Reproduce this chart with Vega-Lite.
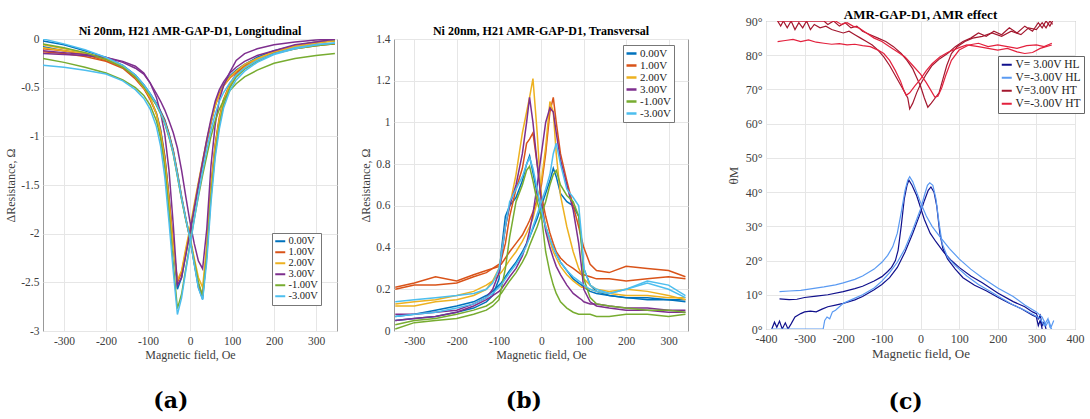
{
"$schema": "https://vega.github.io/schema/vega-lite/v6.json",
"padding": {"left": 4, "top": 8, "right": 0, "bottom": 0},
"config": {
 "view": {"stroke": "#999999"},
 "title": {"font": "Liberation Serif", "fontWeight": "bold", "color": "#000000"},
 "axis": {"labelFont": "Liberation Serif", "labelColor": "#404040", "titleFont": "Liberation Serif", "titleFontWeight": "normal", "titleColor": "#404040", "gridColor": "#e6e6e6", "domain": false, "ticks": false, "labelPadding": 4, "labelFlush": false, "labelOverlap": false},
 "legend": {"labelFont": "Liberation Serif", "labelColor": "#222222", "symbolType": "M-2,0H2", "symbolSize": 25, "fillColor": "#ffffff", "strokeColor": "#777777", "padding": 3, "rowPadding": 0, "labelOffset": 3}
},
"datasets": {
"a": [
{"x":-350,"y":-0.08,"s":"0.00V","k":"d"},{"x":-300,"y":-0.12,"s":"0.00V","k":"d"},{"x":-250,"y":-0.15,"s":"0.00V","k":"d"},{"x":-200,"y":-0.22,"s":"0.00V","k":"d"},{"x":-160,"y":-0.28,"s":"0.00V","k":"d"},{"x":-130,"y":-0.40,"s":"0.00V","k":"d"},{"x":-110,"y":-0.50,"s":"0.00V","k":"d"},{"x":-95,"y":-0.61,"s":"0.00V","k":"d"},{"x":-80,"y":-0.76,"s":"0.00V","k":"d"},{"x":-70,"y":-0.93,"s":"0.00V","k":"d"},{"x":-60,"y":-1.20,"s":"0.00V","k":"d"},{"x":-50,"y":-1.62,"s":"0.00V","k":"d"},{"x":-40,"y":-2.10,"s":"0.00V","k":"d"},{"x":-30,"y":-2.57,"s":"0.00V","k":"d"},{"x":-20,"y":-2.45,"s":"0.00V","k":"d"},{"x":-10,"y":-2.21,"s":"0.00V","k":"d"},{"x":0,"y":-1.99,"s":"0.00V","k":"d"},{"x":10,"y":-1.75,"s":"0.00V","k":"d"},{"x":20,"y":-1.51,"s":"0.00V","k":"d"},{"x":30,"y":-1.28,"s":"0.00V","k":"d"},{"x":40,"y":-1.06,"s":"0.00V","k":"d"},{"x":50,"y":-0.86,"s":"0.00V","k":"d"},{"x":60,"y":-0.68,"s":"0.00V","k":"d"},{"x":70,"y":-0.56,"s":"0.00V","k":"d"},{"x":80,"y":-0.47,"s":"0.00V","k":"d"},{"x":95,"y":-0.38,"s":"0.00V","k":"d"},{"x":110,"y":-0.32,"s":"0.00V","k":"d"},{"x":130,"y":-0.26,"s":"0.00V","k":"d"},{"x":160,"y":-0.19,"s":"0.00V","k":"d"},{"x":200,"y":-0.13,"s":"0.00V","k":"d"},{"x":250,"y":-0.07,"s":"0.00V","k":"d"},{"x":300,"y":-0.04,"s":"0.00V","k":"d"},{"x":345,"y":-0.01,"s":"0.00V","k":"d"},
{"x":-350,"y":-0.02,"s":"0.00V","k":"u"},{"x":-300,"y":-0.06,"s":"0.00V","k":"u"},{"x":-250,"y":-0.12,"s":"0.00V","k":"u"},{"x":-200,"y":-0.19,"s":"0.00V","k":"u"},{"x":-160,"y":-0.27,"s":"0.00V","k":"u"},{"x":-130,"y":-0.37,"s":"0.00V","k":"u"},{"x":-110,"y":-0.47,"s":"0.00V","k":"u"},{"x":-95,"y":-0.56,"s":"0.00V","k":"u"},{"x":-80,"y":-0.66,"s":"0.00V","k":"u"},{"x":-70,"y":-0.74,"s":"0.00V","k":"u"},{"x":-60,"y":-0.83,"s":"0.00V","k":"u"},{"x":-50,"y":-0.97,"s":"0.00V","k":"u"},{"x":-40,"y":-1.14,"s":"0.00V","k":"u"},{"x":-30,"y":-1.37,"s":"0.00V","k":"u"},{"x":-20,"y":-1.62,"s":"0.00V","k":"u"},{"x":-10,"y":-1.84,"s":"0.00V","k":"u"},{"x":0,"y":-2.04,"s":"0.00V","k":"u"},{"x":10,"y":-2.30,"s":"0.00V","k":"u"},{"x":20,"y":-2.55,"s":"0.00V","k":"u"},{"x":30,"y":-2.67,"s":"0.00V","k":"u"},{"x":40,"y":-2.20,"s":"0.00V","k":"u"},{"x":50,"y":-1.55,"s":"0.00V","k":"u"},{"x":60,"y":-1.10,"s":"0.00V","k":"u"},{"x":70,"y":-0.82,"s":"0.00V","k":"u"},{"x":80,"y":-0.63,"s":"0.00V","k":"u"},{"x":95,"y":-0.47,"s":"0.00V","k":"u"},{"x":110,"y":-0.36,"s":"0.00V","k":"u"},{"x":130,"y":-0.28,"s":"0.00V","k":"u"},{"x":160,"y":-0.19,"s":"0.00V","k":"u"},{"x":200,"y":-0.12,"s":"0.00V","k":"u"},{"x":250,"y":-0.07,"s":"0.00V","k":"u"},{"x":300,"y":-0.03,"s":"0.00V","k":"u"},{"x":345,"y":-0.02,"s":"0.00V","k":"u"},
{"x":-350,"y":-0.13,"s":"1.00V","k":"d"},{"x":-300,"y":-0.15,"s":"1.00V","k":"d"},{"x":-250,"y":-0.18,"s":"1.00V","k":"d"},{"x":-200,"y":-0.23,"s":"1.00V","k":"d"},{"x":-160,"y":-0.30,"s":"1.00V","k":"d"},{"x":-130,"y":-0.41,"s":"1.00V","k":"d"},{"x":-110,"y":-0.51,"s":"1.00V","k":"d"},{"x":-95,"y":-0.62,"s":"1.00V","k":"d"},{"x":-80,"y":-0.77,"s":"1.00V","k":"d"},{"x":-70,"y":-0.95,"s":"1.00V","k":"d"},{"x":-60,"y":-1.22,"s":"1.00V","k":"d"},{"x":-50,"y":-1.63,"s":"1.00V","k":"d"},{"x":-40,"y":-2.10,"s":"1.00V","k":"d"},{"x":-30,"y":-2.50,"s":"1.00V","k":"d"},{"x":-20,"y":-2.40,"s":"1.00V","k":"d"},{"x":-10,"y":-2.18,"s":"1.00V","k":"d"},{"x":0,"y":-1.97,"s":"1.00V","k":"d"},{"x":10,"y":-1.73,"s":"1.00V","k":"d"},{"x":20,"y":-1.49,"s":"1.00V","k":"d"},{"x":30,"y":-1.27,"s":"1.00V","k":"d"},{"x":40,"y":-1.05,"s":"1.00V","k":"d"},{"x":50,"y":-0.85,"s":"1.00V","k":"d"},{"x":60,"y":-0.68,"s":"1.00V","k":"d"},{"x":70,"y":-0.56,"s":"1.00V","k":"d"},{"x":80,"y":-0.48,"s":"1.00V","k":"d"},{"x":95,"y":-0.40,"s":"1.00V","k":"d"},{"x":110,"y":-0.34,"s":"1.00V","k":"d"},{"x":130,"y":-0.28,"s":"1.00V","k":"d"},{"x":160,"y":-0.21,"s":"1.00V","k":"d"},{"x":200,"y":-0.15,"s":"1.00V","k":"d"},{"x":250,"y":-0.10,"s":"1.00V","k":"d"},{"x":300,"y":-0.07,"s":"1.00V","k":"d"},{"x":345,"y":-0.05,"s":"1.00V","k":"d"},
{"x":-350,"y":-0.10,"s":"1.00V","k":"u"},{"x":-300,"y":-0.12,"s":"1.00V","k":"u"},{"x":-250,"y":-0.16,"s":"1.00V","k":"u"},{"x":-200,"y":-0.22,"s":"1.00V","k":"u"},{"x":-160,"y":-0.28,"s":"1.00V","k":"u"},{"x":-130,"y":-0.38,"s":"1.00V","k":"u"},{"x":-110,"y":-0.48,"s":"1.00V","k":"u"},{"x":-95,"y":-0.57,"s":"1.00V","k":"u"},{"x":-80,"y":-0.67,"s":"1.00V","k":"u"},{"x":-70,"y":-0.75,"s":"1.00V","k":"u"},{"x":-60,"y":-0.84,"s":"1.00V","k":"u"},{"x":-50,"y":-0.98,"s":"1.00V","k":"u"},{"x":-40,"y":-1.15,"s":"1.00V","k":"u"},{"x":-30,"y":-1.38,"s":"1.00V","k":"u"},{"x":-20,"y":-1.63,"s":"1.00V","k":"u"},{"x":-10,"y":-1.85,"s":"1.00V","k":"u"},{"x":0,"y":-2.05,"s":"1.00V","k":"u"},{"x":10,"y":-2.30,"s":"1.00V","k":"u"},{"x":20,"y":-2.52,"s":"1.00V","k":"u"},{"x":30,"y":-2.64,"s":"1.00V","k":"u"},{"x":40,"y":-2.15,"s":"1.00V","k":"u"},{"x":50,"y":-1.50,"s":"1.00V","k":"u"},{"x":60,"y":-1.08,"s":"1.00V","k":"u"},{"x":70,"y":-0.80,"s":"1.00V","k":"u"},{"x":80,"y":-0.62,"s":"1.00V","k":"u"},{"x":95,"y":-0.46,"s":"1.00V","k":"u"},{"x":110,"y":-0.36,"s":"1.00V","k":"u"},{"x":130,"y":-0.29,"s":"1.00V","k":"u"},{"x":160,"y":-0.21,"s":"1.00V","k":"u"},{"x":200,"y":-0.14,"s":"1.00V","k":"u"},{"x":250,"y":-0.09,"s":"1.00V","k":"u"},{"x":300,"y":-0.06,"s":"1.00V","k":"u"},{"x":345,"y":-0.05,"s":"1.00V","k":"u"},
{"x":-350,"y":-0.06,"s":"2.00V","k":"d"},{"x":-300,"y":-0.10,"s":"2.00V","k":"d"},{"x":-250,"y":-0.14,"s":"2.00V","k":"d"},{"x":-200,"y":-0.20,"s":"2.00V","k":"d"},{"x":-160,"y":-0.28,"s":"2.00V","k":"d"},{"x":-130,"y":-0.39,"s":"2.00V","k":"d"},{"x":-110,"y":-0.50,"s":"2.00V","k":"d"},{"x":-95,"y":-0.60,"s":"2.00V","k":"d"},{"x":-80,"y":-0.77,"s":"2.00V","k":"d"},{"x":-70,"y":-0.96,"s":"2.00V","k":"d"},{"x":-60,"y":-1.25,"s":"2.00V","k":"d"},{"x":-50,"y":-1.67,"s":"2.00V","k":"d"},{"x":-40,"y":-2.12,"s":"2.00V","k":"d"},{"x":-30,"y":-2.48,"s":"2.00V","k":"d"},{"x":-20,"y":-2.38,"s":"2.00V","k":"d"},{"x":-10,"y":-2.15,"s":"2.00V","k":"d"},{"x":0,"y":-1.94,"s":"2.00V","k":"d"},{"x":10,"y":-1.70,"s":"2.00V","k":"d"},{"x":20,"y":-1.47,"s":"2.00V","k":"d"},{"x":30,"y":-1.25,"s":"2.00V","k":"d"},{"x":40,"y":-1.04,"s":"2.00V","k":"d"},{"x":50,"y":-0.85,"s":"2.00V","k":"d"},{"x":60,"y":-0.69,"s":"2.00V","k":"d"},{"x":70,"y":-0.57,"s":"2.00V","k":"d"},{"x":80,"y":-0.48,"s":"2.00V","k":"d"},{"x":95,"y":-0.39,"s":"2.00V","k":"d"},{"x":110,"y":-0.33,"s":"2.00V","k":"d"},{"x":130,"y":-0.26,"s":"2.00V","k":"d"},{"x":160,"y":-0.20,"s":"2.00V","k":"d"},{"x":200,"y":-0.13,"s":"2.00V","k":"d"},{"x":250,"y":-0.08,"s":"2.00V","k":"d"},{"x":300,"y":-0.04,"s":"2.00V","k":"d"},{"x":345,"y":-0.02,"s":"2.00V","k":"d"},
{"x":-350,"y":-0.09,"s":"2.00V","k":"u"},{"x":-300,"y":-0.12,"s":"2.00V","k":"u"},{"x":-250,"y":-0.15,"s":"2.00V","k":"u"},{"x":-200,"y":-0.21,"s":"2.00V","k":"u"},{"x":-160,"y":-0.28,"s":"2.00V","k":"u"},{"x":-130,"y":-0.39,"s":"2.00V","k":"u"},{"x":-110,"y":-0.49,"s":"2.00V","k":"u"},{"x":-95,"y":-0.58,"s":"2.00V","k":"u"},{"x":-80,"y":-0.68,"s":"2.00V","k":"u"},{"x":-70,"y":-0.76,"s":"2.00V","k":"u"},{"x":-60,"y":-0.86,"s":"2.00V","k":"u"},{"x":-50,"y":-1.00,"s":"2.00V","k":"u"},{"x":-40,"y":-1.17,"s":"2.00V","k":"u"},{"x":-30,"y":-1.40,"s":"2.00V","k":"u"},{"x":-20,"y":-1.64,"s":"2.00V","k":"u"},{"x":-10,"y":-1.85,"s":"2.00V","k":"u"},{"x":0,"y":-2.03,"s":"2.00V","k":"u"},{"x":10,"y":-2.25,"s":"2.00V","k":"u"},{"x":20,"y":-2.45,"s":"2.00V","k":"u"},{"x":30,"y":-2.55,"s":"2.00V","k":"u"},{"x":40,"y":-2.12,"s":"2.00V","k":"u"},{"x":50,"y":-1.52,"s":"2.00V","k":"u"},{"x":60,"y":-1.10,"s":"2.00V","k":"u"},{"x":70,"y":-0.82,"s":"2.00V","k":"u"},{"x":80,"y":-0.63,"s":"2.00V","k":"u"},{"x":95,"y":-0.47,"s":"2.00V","k":"u"},{"x":110,"y":-0.37,"s":"2.00V","k":"u"},{"x":130,"y":-0.29,"s":"2.00V","k":"u"},{"x":160,"y":-0.21,"s":"2.00V","k":"u"},{"x":200,"y":-0.13,"s":"2.00V","k":"u"},{"x":250,"y":-0.07,"s":"2.00V","k":"u"},{"x":300,"y":-0.03,"s":"2.00V","k":"u"},{"x":345,"y":0.00,"s":"2.00V","k":"u"},
{"x":-350,"y":-0.15,"s":"3.00V","k":"d"},{"x":-300,"y":-0.16,"s":"3.00V","k":"d"},{"x":-250,"y":-0.17,"s":"3.00V","k":"d"},{"x":-200,"y":-0.19,"s":"3.00V","k":"d"},{"x":-160,"y":-0.23,"s":"3.00V","k":"d"},{"x":-130,"y":-0.28,"s":"3.00V","k":"d"},{"x":-110,"y":-0.35,"s":"3.00V","k":"d"},{"x":-95,"y":-0.45,"s":"3.00V","k":"d"},{"x":-80,"y":-0.60,"s":"3.00V","k":"d"},{"x":-70,"y":-0.76,"s":"3.00V","k":"d"},{"x":-60,"y":-0.98,"s":"3.00V","k":"d"},{"x":-50,"y":-1.35,"s":"3.00V","k":"d"},{"x":-40,"y":-1.90,"s":"3.00V","k":"d"},{"x":-30,"y":-2.53,"s":"3.00V","k":"d"},{"x":-20,"y":-2.45,"s":"3.00V","k":"d"},{"x":-10,"y":-2.22,"s":"3.00V","k":"d"},{"x":0,"y":-1.98,"s":"3.00V","k":"d"},{"x":10,"y":-1.74,"s":"3.00V","k":"d"},{"x":20,"y":-1.50,"s":"3.00V","k":"d"},{"x":30,"y":-1.26,"s":"3.00V","k":"d"},{"x":40,"y":-1.03,"s":"3.00V","k":"d"},{"x":50,"y":-0.82,"s":"3.00V","k":"d"},{"x":60,"y":-0.64,"s":"3.00V","k":"d"},{"x":70,"y":-0.52,"s":"3.00V","k":"d"},{"x":80,"y":-0.44,"s":"3.00V","k":"d"},{"x":95,"y":-0.35,"s":"3.00V","k":"d"},{"x":110,"y":-0.29,"s":"3.00V","k":"d"},{"x":130,"y":-0.23,"s":"3.00V","k":"d"},{"x":160,"y":-0.17,"s":"3.00V","k":"d"},{"x":200,"y":-0.12,"s":"3.00V","k":"d"},{"x":250,"y":-0.06,"s":"3.00V","k":"d"},{"x":300,"y":-0.03,"s":"3.00V","k":"d"},{"x":345,"y":0.00,"s":"3.00V","k":"d"},
{"x":-350,"y":-0.12,"s":"3.00V","k":"u"},{"x":-300,"y":-0.14,"s":"3.00V","k":"u"},{"x":-250,"y":-0.16,"s":"3.00V","k":"u"},{"x":-200,"y":-0.19,"s":"3.00V","k":"u"},{"x":-160,"y":-0.24,"s":"3.00V","k":"u"},{"x":-130,"y":-0.30,"s":"3.00V","k":"u"},{"x":-110,"y":-0.36,"s":"3.00V","k":"u"},{"x":-95,"y":-0.45,"s":"3.00V","k":"u"},{"x":-80,"y":-0.56,"s":"3.00V","k":"u"},{"x":-70,"y":-0.64,"s":"3.00V","k":"u"},{"x":-60,"y":-0.73,"s":"3.00V","k":"u"},{"x":-50,"y":-0.84,"s":"3.00V","k":"u"},{"x":-40,"y":-0.96,"s":"3.00V","k":"u"},{"x":-30,"y":-1.12,"s":"3.00V","k":"u"},{"x":-20,"y":-1.35,"s":"3.00V","k":"u"},{"x":-10,"y":-1.62,"s":"3.00V","k":"u"},{"x":0,"y":-1.88,"s":"3.00V","k":"u"},{"x":10,"y":-2.10,"s":"3.00V","k":"u"},{"x":20,"y":-2.28,"s":"3.00V","k":"u"},{"x":30,"y":-2.36,"s":"3.00V","k":"u"},{"x":40,"y":-1.95,"s":"3.00V","k":"u"},{"x":50,"y":-1.30,"s":"3.00V","k":"u"},{"x":60,"y":-0.88,"s":"3.00V","k":"u"},{"x":70,"y":-0.62,"s":"3.00V","k":"u"},{"x":80,"y":-0.48,"s":"3.00V","k":"u"},{"x":95,"y":-0.34,"s":"3.00V","k":"u"},{"x":110,"y":-0.22,"s":"3.00V","k":"u"},{"x":130,"y":-0.15,"s":"3.00V","k":"u"},{"x":160,"y":-0.10,"s":"3.00V","k":"u"},{"x":200,"y":-0.06,"s":"3.00V","k":"u"},{"x":250,"y":-0.03,"s":"3.00V","k":"u"},{"x":300,"y":-0.01,"s":"3.00V","k":"u"},{"x":345,"y":0.00,"s":"3.00V","k":"u"},
{"x":-350,"y":-0.20,"s":"-1.00V","k":"d"},{"x":-300,"y":-0.24,"s":"-1.00V","k":"d"},{"x":-250,"y":-0.29,"s":"-1.00V","k":"d"},{"x":-200,"y":-0.35,"s":"-1.00V","k":"d"},{"x":-160,"y":-0.42,"s":"-1.00V","k":"d"},{"x":-130,"y":-0.50,"s":"-1.00V","k":"d"},{"x":-110,"y":-0.58,"s":"-1.00V","k":"d"},{"x":-95,"y":-0.68,"s":"-1.00V","k":"d"},{"x":-80,"y":-0.84,"s":"-1.00V","k":"d"},{"x":-70,"y":-1.02,"s":"-1.00V","k":"d"},{"x":-60,"y":-1.32,"s":"-1.00V","k":"d"},{"x":-50,"y":-1.78,"s":"-1.00V","k":"d"},{"x":-40,"y":-2.30,"s":"-1.00V","k":"d"},{"x":-30,"y":-2.77,"s":"-1.00V","k":"d"},{"x":-20,"y":-2.62,"s":"-1.00V","k":"d"},{"x":-10,"y":-2.36,"s":"-1.00V","k":"d"},{"x":0,"y":-2.10,"s":"-1.00V","k":"d"},{"x":10,"y":-1.85,"s":"-1.00V","k":"d"},{"x":20,"y":-1.62,"s":"-1.00V","k":"d"},{"x":30,"y":-1.40,"s":"-1.00V","k":"d"},{"x":40,"y":-1.20,"s":"-1.00V","k":"d"},{"x":50,"y":-1.00,"s":"-1.00V","k":"d"},{"x":60,"y":-0.84,"s":"-1.00V","k":"d"},{"x":70,"y":-0.72,"s":"-1.00V","k":"d"},{"x":80,"y":-0.63,"s":"-1.00V","k":"d"},{"x":95,"y":-0.53,"s":"-1.00V","k":"d"},{"x":110,"y":-0.46,"s":"-1.00V","k":"d"},{"x":130,"y":-0.39,"s":"-1.00V","k":"d"},{"x":160,"y":-0.32,"s":"-1.00V","k":"d"},{"x":200,"y":-0.25,"s":"-1.00V","k":"d"},{"x":250,"y":-0.20,"s":"-1.00V","k":"d"},{"x":300,"y":-0.17,"s":"-1.00V","k":"d"},{"x":345,"y":-0.15,"s":"-1.00V","k":"d"},
{"x":-350,"y":-0.05,"s":"-1.00V","k":"u"},{"x":-300,"y":-0.09,"s":"-1.00V","k":"u"},{"x":-250,"y":-0.14,"s":"-1.00V","k":"u"},{"x":-200,"y":-0.21,"s":"-1.00V","k":"u"},{"x":-160,"y":-0.29,"s":"-1.00V","k":"u"},{"x":-130,"y":-0.39,"s":"-1.00V","k":"u"},{"x":-110,"y":-0.49,"s":"-1.00V","k":"u"},{"x":-95,"y":-0.58,"s":"-1.00V","k":"u"},{"x":-80,"y":-0.68,"s":"-1.00V","k":"u"},{"x":-70,"y":-0.77,"s":"-1.00V","k":"u"},{"x":-60,"y":-0.87,"s":"-1.00V","k":"u"},{"x":-50,"y":-1.01,"s":"-1.00V","k":"u"},{"x":-40,"y":-1.18,"s":"-1.00V","k":"u"},{"x":-30,"y":-1.41,"s":"-1.00V","k":"u"},{"x":-20,"y":-1.65,"s":"-1.00V","k":"u"},{"x":-10,"y":-1.86,"s":"-1.00V","k":"u"},{"x":0,"y":-2.05,"s":"-1.00V","k":"u"},{"x":10,"y":-2.28,"s":"-1.00V","k":"u"},{"x":20,"y":-2.50,"s":"-1.00V","k":"u"},{"x":30,"y":-2.64,"s":"-1.00V","k":"u"},{"x":40,"y":-2.22,"s":"-1.00V","k":"u"},{"x":50,"y":-1.62,"s":"-1.00V","k":"u"},{"x":60,"y":-1.18,"s":"-1.00V","k":"u"},{"x":70,"y":-0.88,"s":"-1.00V","k":"u"},{"x":80,"y":-0.68,"s":"-1.00V","k":"u"},{"x":95,"y":-0.50,"s":"-1.00V","k":"u"},{"x":110,"y":-0.39,"s":"-1.00V","k":"u"},{"x":130,"y":-0.31,"s":"-1.00V","k":"u"},{"x":160,"y":-0.23,"s":"-1.00V","k":"u"},{"x":200,"y":-0.15,"s":"-1.00V","k":"u"},{"x":250,"y":-0.10,"s":"-1.00V","k":"u"},{"x":300,"y":-0.07,"s":"-1.00V","k":"u"},{"x":345,"y":-0.05,"s":"-1.00V","k":"u"},
{"x":-350,"y":-0.27,"s":"-3.00V","k":"d"},{"x":-300,"y":-0.29,"s":"-3.00V","k":"d"},{"x":-250,"y":-0.32,"s":"-3.00V","k":"d"},{"x":-200,"y":-0.36,"s":"-3.00V","k":"d"},{"x":-160,"y":-0.43,"s":"-3.00V","k":"d"},{"x":-130,"y":-0.52,"s":"-3.00V","k":"d"},{"x":-110,"y":-0.61,"s":"-3.00V","k":"d"},{"x":-95,"y":-0.72,"s":"-3.00V","k":"d"},{"x":-80,"y":-0.90,"s":"-3.00V","k":"d"},{"x":-70,"y":-1.10,"s":"-3.00V","k":"d"},{"x":-60,"y":-1.42,"s":"-3.00V","k":"d"},{"x":-50,"y":-1.88,"s":"-3.00V","k":"d"},{"x":-40,"y":-2.38,"s":"-3.00V","k":"d"},{"x":-30,"y":-2.83,"s":"-3.00V","k":"d"},{"x":-20,"y":-2.66,"s":"-3.00V","k":"d"},{"x":-10,"y":-2.38,"s":"-3.00V","k":"d"},{"x":0,"y":-2.12,"s":"-3.00V","k":"d"},{"x":10,"y":-1.86,"s":"-3.00V","k":"d"},{"x":20,"y":-1.60,"s":"-3.00V","k":"d"},{"x":30,"y":-1.36,"s":"-3.00V","k":"d"},{"x":40,"y":-1.14,"s":"-3.00V","k":"d"},{"x":50,"y":-0.94,"s":"-3.00V","k":"d"},{"x":60,"y":-0.77,"s":"-3.00V","k":"d"},{"x":70,"y":-0.64,"s":"-3.00V","k":"d"},{"x":80,"y":-0.55,"s":"-3.00V","k":"d"},{"x":95,"y":-0.45,"s":"-3.00V","k":"d"},{"x":110,"y":-0.37,"s":"-3.00V","k":"d"},{"x":130,"y":-0.30,"s":"-3.00V","k":"d"},{"x":160,"y":-0.22,"s":"-3.00V","k":"d"},{"x":200,"y":-0.15,"s":"-3.00V","k":"d"},{"x":250,"y":-0.09,"s":"-3.00V","k":"d"},{"x":300,"y":-0.06,"s":"-3.00V","k":"d"},{"x":345,"y":-0.04,"s":"-3.00V","k":"d"},
{"x":-350,"y":0.00,"s":"-3.00V","k":"u"},{"x":-300,"y":-0.05,"s":"-3.00V","k":"u"},{"x":-250,"y":-0.11,"s":"-3.00V","k":"u"},{"x":-200,"y":-0.19,"s":"-3.00V","k":"u"},{"x":-160,"y":-0.27,"s":"-3.00V","k":"u"},{"x":-130,"y":-0.37,"s":"-3.00V","k":"u"},{"x":-110,"y":-0.47,"s":"-3.00V","k":"u"},{"x":-95,"y":-0.56,"s":"-3.00V","k":"u"},{"x":-80,"y":-0.67,"s":"-3.00V","k":"u"},{"x":-70,"y":-0.76,"s":"-3.00V","k":"u"},{"x":-60,"y":-0.86,"s":"-3.00V","k":"u"},{"x":-50,"y":-1.00,"s":"-3.00V","k":"u"},{"x":-40,"y":-1.17,"s":"-3.00V","k":"u"},{"x":-30,"y":-1.40,"s":"-3.00V","k":"u"},{"x":-20,"y":-1.64,"s":"-3.00V","k":"u"},{"x":-10,"y":-1.85,"s":"-3.00V","k":"u"},{"x":0,"y":-2.05,"s":"-3.00V","k":"u"},{"x":10,"y":-2.31,"s":"-3.00V","k":"u"},{"x":20,"y":-2.56,"s":"-3.00V","k":"u"},{"x":30,"y":-2.68,"s":"-3.00V","k":"u"},{"x":40,"y":-2.28,"s":"-3.00V","k":"u"},{"x":50,"y":-1.68,"s":"-3.00V","k":"u"},{"x":60,"y":-1.22,"s":"-3.00V","k":"u"},{"x":70,"y":-0.92,"s":"-3.00V","k":"u"},{"x":80,"y":-0.71,"s":"-3.00V","k":"u"},{"x":95,"y":-0.53,"s":"-3.00V","k":"u"},{"x":110,"y":-0.42,"s":"-3.00V","k":"u"},{"x":130,"y":-0.33,"s":"-3.00V","k":"u"},{"x":160,"y":-0.24,"s":"-3.00V","k":"u"},{"x":200,"y":-0.16,"s":"-3.00V","k":"u"},{"x":250,"y":-0.10,"s":"-3.00V","k":"u"},{"x":300,"y":-0.06,"s":"-3.00V","k":"u"},{"x":345,"y":-0.04,"s":"-3.00V","k":"u"}
],
"b": [
{"x":-345,"y":0.07,"s":"0.00V","k":"u"},{"x":-300,"y":0.08,"s":"0.00V","k":"u"},{"x":-250,"y":0.10,"s":"0.00V","k":"u"},{"x":-200,"y":0.12,"s":"0.00V","k":"u"},{"x":-160,"y":0.14,"s":"0.00V","k":"u"},{"x":-130,"y":0.17,"s":"0.00V","k":"u"},{"x":-115,"y":0.19,"s":"0.00V","k":"u"},{"x":-100,"y":0.22,"s":"0.00V","k":"u"},{"x":-95,"y":0.23,"s":"0.00V","k":"u"},{"x":-85,"y":0.26,"s":"0.00V","k":"u"},{"x":-75,"y":0.29,"s":"0.00V","k":"u"},{"x":-60,"y":0.33,"s":"0.00V","k":"u"},{"x":-45,"y":0.38,"s":"0.00V","k":"u"},{"x":-35,"y":0.42,"s":"0.00V","k":"u"},{"x":-28,"y":0.45,"s":"0.00V","k":"u"},{"x":-20,"y":0.49,"s":"0.00V","k":"u"},{"x":-10,"y":0.54,"s":"0.00V","k":"u"},{"x":0,"y":0.60,"s":"0.00V","k":"u"},{"x":10,"y":0.66,"s":"0.00V","k":"u"},{"x":20,"y":0.72,"s":"0.00V","k":"u"},{"x":28,"y":0.78,"s":"0.00V","k":"u"},{"x":35,"y":0.74,"s":"0.00V","k":"u"},{"x":45,"y":0.66,"s":"0.00V","k":"u"},{"x":60,"y":0.62,"s":"0.00V","k":"u"},{"x":75,"y":0.60,"s":"0.00V","k":"u"},{"x":88,"y":0.55,"s":"0.00V","k":"u"},{"x":95,"y":0.42,"s":"0.00V","k":"u"},{"x":100,"y":0.30,"s":"0.00V","k":"u"},{"x":115,"y":0.22,"s":"0.00V","k":"u"},{"x":130,"y":0.19,"s":"0.00V","k":"u"},{"x":160,"y":0.17,"s":"0.00V","k":"u"},{"x":200,"y":0.16,"s":"0.00V","k":"u"},{"x":250,"y":0.16,"s":"0.00V","k":"u"},{"x":300,"y":0.15,"s":"0.00V","k":"u"},{"x":340,"y":0.15,"s":"0.00V","k":"u"},
{"x":-345,"y":0.05,"s":"0.00V","k":"d"},{"x":-300,"y":0.06,"s":"0.00V","k":"d"},{"x":-250,"y":0.07,"s":"0.00V","k":"d"},{"x":-200,"y":0.09,"s":"0.00V","k":"d"},{"x":-160,"y":0.11,"s":"0.00V","k":"d"},{"x":-130,"y":0.14,"s":"0.00V","k":"d"},{"x":-115,"y":0.17,"s":"0.00V","k":"d"},{"x":-100,"y":0.25,"s":"0.00V","k":"d"},{"x":-95,"y":0.38,"s":"0.00V","k":"d"},{"x":-85,"y":0.55,"s":"0.00V","k":"d"},{"x":-75,"y":0.60,"s":"0.00V","k":"d"},{"x":-60,"y":0.64,"s":"0.00V","k":"d"},{"x":-45,"y":0.72,"s":"0.00V","k":"d"},{"x":-35,"y":0.80,"s":"0.00V","k":"d"},{"x":-28,"y":0.84,"s":"0.00V","k":"d"},{"x":-20,"y":0.76,"s":"0.00V","k":"d"},{"x":-10,"y":0.66,"s":"0.00V","k":"d"},{"x":0,"y":0.58,"s":"0.00V","k":"d"},{"x":10,"y":0.50,"s":"0.00V","k":"d"},{"x":20,"y":0.44,"s":"0.00V","k":"d"},{"x":28,"y":0.40,"s":"0.00V","k":"d"},{"x":35,"y":0.37,"s":"0.00V","k":"d"},{"x":45,"y":0.33,"s":"0.00V","k":"d"},{"x":60,"y":0.29,"s":"0.00V","k":"d"},{"x":75,"y":0.25,"s":"0.00V","k":"d"},{"x":88,"y":0.23,"s":"0.00V","k":"d"},{"x":95,"y":0.22,"s":"0.00V","k":"d"},{"x":100,"y":0.21,"s":"0.00V","k":"d"},{"x":115,"y":0.19,"s":"0.00V","k":"d"},{"x":130,"y":0.18,"s":"0.00V","k":"d"},{"x":160,"y":0.17,"s":"0.00V","k":"d"},{"x":200,"y":0.16,"s":"0.00V","k":"d"},{"x":250,"y":0.15,"s":"0.00V","k":"d"},{"x":300,"y":0.15,"s":"0.00V","k":"d"},{"x":340,"y":0.14,"s":"0.00V","k":"d"},
{"x":-345,"y":0.21,"s":"1.00V","k":"u"},{"x":-300,"y":0.23,"s":"1.00V","k":"u"},{"x":-250,"y":0.26,"s":"1.00V","k":"u"},{"x":-200,"y":0.24,"s":"1.00V","k":"u"},{"x":-160,"y":0.27,"s":"1.00V","k":"u"},{"x":-130,"y":0.29,"s":"1.00V","k":"u"},{"x":-115,"y":0.30,"s":"1.00V","k":"u"},{"x":-100,"y":0.32,"s":"1.00V","k":"u"},{"x":-95,"y":0.32,"s":"1.00V","k":"u"},{"x":-85,"y":0.35,"s":"1.00V","k":"u"},{"x":-75,"y":0.38,"s":"1.00V","k":"u"},{"x":-60,"y":0.42,"s":"1.00V","k":"u"},{"x":-45,"y":0.46,"s":"1.00V","k":"u"},{"x":-35,"y":0.50,"s":"1.00V","k":"u"},{"x":-28,"y":0.53,"s":"1.00V","k":"u"},{"x":-20,"y":0.57,"s":"1.00V","k":"u"},{"x":-10,"y":0.63,"s":"1.00V","k":"u"},{"x":0,"y":0.70,"s":"1.00V","k":"u"},{"x":10,"y":0.85,"s":"1.00V","k":"u"},{"x":20,"y":1.05,"s":"1.00V","k":"u"},{"x":28,"y":1.12,"s":"1.00V","k":"u"},{"x":35,"y":1.00,"s":"1.00V","k":"u"},{"x":45,"y":0.85,"s":"1.00V","k":"u"},{"x":60,"y":0.72,"s":"1.00V","k":"u"},{"x":75,"y":0.60,"s":"1.00V","k":"u"},{"x":88,"y":0.50,"s":"1.00V","k":"u"},{"x":95,"y":0.44,"s":"1.00V","k":"u"},{"x":100,"y":0.40,"s":"1.00V","k":"u"},{"x":115,"y":0.32,"s":"1.00V","k":"u"},{"x":130,"y":0.29,"s":"1.00V","k":"u"},{"x":160,"y":0.28,"s":"1.00V","k":"u"},{"x":200,"y":0.31,"s":"1.00V","k":"u"},{"x":250,"y":0.30,"s":"1.00V","k":"u"},{"x":300,"y":0.29,"s":"1.00V","k":"u"},{"x":340,"y":0.26,"s":"1.00V","k":"u"},
{"x":-345,"y":0.20,"s":"1.00V","k":"d"},{"x":-300,"y":0.22,"s":"1.00V","k":"d"},{"x":-250,"y":0.22,"s":"1.00V","k":"d"},{"x":-200,"y":0.23,"s":"1.00V","k":"d"},{"x":-160,"y":0.26,"s":"1.00V","k":"d"},{"x":-130,"y":0.28,"s":"1.00V","k":"d"},{"x":-115,"y":0.30,"s":"1.00V","k":"d"},{"x":-100,"y":0.31,"s":"1.00V","k":"d"},{"x":-95,"y":0.34,"s":"1.00V","k":"d"},{"x":-85,"y":0.42,"s":"1.00V","k":"d"},{"x":-75,"y":0.55,"s":"1.00V","k":"d"},{"x":-60,"y":0.68,"s":"1.00V","k":"d"},{"x":-45,"y":0.78,"s":"1.00V","k":"d"},{"x":-35,"y":0.90,"s":"1.00V","k":"d"},{"x":-28,"y":0.92,"s":"1.00V","k":"d"},{"x":-20,"y":0.95,"s":"1.00V","k":"d"},{"x":-10,"y":0.80,"s":"1.00V","k":"d"},{"x":0,"y":0.65,"s":"1.00V","k":"d"},{"x":10,"y":0.55,"s":"1.00V","k":"d"},{"x":20,"y":0.47,"s":"1.00V","k":"d"},{"x":28,"y":0.42,"s":"1.00V","k":"d"},{"x":35,"y":0.38,"s":"1.00V","k":"d"},{"x":45,"y":0.35,"s":"1.00V","k":"d"},{"x":60,"y":0.32,"s":"1.00V","k":"d"},{"x":75,"y":0.30,"s":"1.00V","k":"d"},{"x":88,"y":0.28,"s":"1.00V","k":"d"},{"x":95,"y":0.27,"s":"1.00V","k":"d"},{"x":100,"y":0.27,"s":"1.00V","k":"d"},{"x":115,"y":0.26,"s":"1.00V","k":"d"},{"x":130,"y":0.25,"s":"1.00V","k":"d"},{"x":160,"y":0.25,"s":"1.00V","k":"d"},{"x":200,"y":0.24,"s":"1.00V","k":"d"},{"x":250,"y":0.25,"s":"1.00V","k":"d"},{"x":300,"y":0.26,"s":"1.00V","k":"d"},{"x":340,"y":0.25,"s":"1.00V","k":"d"},
{"x":-345,"y":0.13,"s":"2.00V","k":"u"},{"x":-300,"y":0.14,"s":"2.00V","k":"u"},{"x":-250,"y":0.15,"s":"2.00V","k":"u"},{"x":-200,"y":0.17,"s":"2.00V","k":"u"},{"x":-160,"y":0.19,"s":"2.00V","k":"u"},{"x":-130,"y":0.22,"s":"2.00V","k":"u"},{"x":-115,"y":0.24,"s":"2.00V","k":"u"},{"x":-100,"y":0.27,"s":"2.00V","k":"u"},{"x":-95,"y":0.28,"s":"2.00V","k":"u"},{"x":-85,"y":0.31,"s":"2.00V","k":"u"},{"x":-75,"y":0.34,"s":"2.00V","k":"u"},{"x":-60,"y":0.38,"s":"2.00V","k":"u"},{"x":-45,"y":0.43,"s":"2.00V","k":"u"},{"x":-35,"y":0.47,"s":"2.00V","k":"u"},{"x":-28,"y":0.50,"s":"2.00V","k":"u"},{"x":-20,"y":0.54,"s":"2.00V","k":"u"},{"x":-10,"y":0.62,"s":"2.00V","k":"u"},{"x":0,"y":0.72,"s":"2.00V","k":"u"},{"x":10,"y":0.88,"s":"2.00V","k":"u"},{"x":20,"y":1.10,"s":"2.00V","k":"u"},{"x":28,"y":1.05,"s":"2.00V","k":"u"},{"x":35,"y":0.85,"s":"2.00V","k":"u"},{"x":45,"y":0.65,"s":"2.00V","k":"u"},{"x":60,"y":0.50,"s":"2.00V","k":"u"},{"x":75,"y":0.38,"s":"2.00V","k":"u"},{"x":88,"y":0.30,"s":"2.00V","k":"u"},{"x":95,"y":0.27,"s":"2.00V","k":"u"},{"x":100,"y":0.25,"s":"2.00V","k":"u"},{"x":115,"y":0.22,"s":"2.00V","k":"u"},{"x":130,"y":0.20,"s":"2.00V","k":"u"},{"x":160,"y":0.19,"s":"2.00V","k":"u"},{"x":200,"y":0.20,"s":"2.00V","k":"u"},{"x":250,"y":0.19,"s":"2.00V","k":"u"},{"x":300,"y":0.17,"s":"2.00V","k":"u"},{"x":340,"y":0.15,"s":"2.00V","k":"u"},
{"x":-345,"y":0.12,"s":"2.00V","k":"d"},{"x":-300,"y":0.12,"s":"2.00V","k":"d"},{"x":-250,"y":0.14,"s":"2.00V","k":"d"},{"x":-200,"y":0.15,"s":"2.00V","k":"d"},{"x":-160,"y":0.17,"s":"2.00V","k":"d"},{"x":-130,"y":0.20,"s":"2.00V","k":"d"},{"x":-115,"y":0.24,"s":"2.00V","k":"d"},{"x":-100,"y":0.30,"s":"2.00V","k":"d"},{"x":-95,"y":0.36,"s":"2.00V","k":"d"},{"x":-85,"y":0.50,"s":"2.00V","k":"d"},{"x":-75,"y":0.60,"s":"2.00V","k":"d"},{"x":-60,"y":0.75,"s":"2.00V","k":"d"},{"x":-45,"y":0.95,"s":"2.00V","k":"d"},{"x":-35,"y":1.05,"s":"2.00V","k":"d"},{"x":-28,"y":1.12,"s":"2.00V","k":"d"},{"x":-20,"y":1.21,"s":"2.00V","k":"d"},{"x":-10,"y":0.95,"s":"2.00V","k":"d"},{"x":0,"y":0.62,"s":"2.00V","k":"d"},{"x":10,"y":0.50,"s":"2.00V","k":"d"},{"x":20,"y":0.43,"s":"2.00V","k":"d"},{"x":28,"y":0.38,"s":"2.00V","k":"d"},{"x":35,"y":0.35,"s":"2.00V","k":"d"},{"x":45,"y":0.31,"s":"2.00V","k":"d"},{"x":60,"y":0.27,"s":"2.00V","k":"d"},{"x":75,"y":0.24,"s":"2.00V","k":"d"},{"x":88,"y":0.22,"s":"2.00V","k":"d"},{"x":95,"y":0.21,"s":"2.00V","k":"d"},{"x":100,"y":0.21,"s":"2.00V","k":"d"},{"x":115,"y":0.20,"s":"2.00V","k":"d"},{"x":130,"y":0.19,"s":"2.00V","k":"d"},{"x":160,"y":0.18,"s":"2.00V","k":"d"},{"x":200,"y":0.17,"s":"2.00V","k":"d"},{"x":250,"y":0.17,"s":"2.00V","k":"d"},{"x":300,"y":0.16,"s":"2.00V","k":"d"},{"x":340,"y":0.16,"s":"2.00V","k":"d"},
{"x":-345,"y":0.08,"s":"3.00V","k":"d"},{"x":-300,"y":0.08,"s":"3.00V","k":"d"},{"x":-250,"y":0.09,"s":"3.00V","k":"d"},{"x":-200,"y":0.10,"s":"3.00V","k":"d"},{"x":-160,"y":0.13,"s":"3.00V","k":"d"},{"x":-130,"y":0.16,"s":"3.00V","k":"d"},{"x":-115,"y":0.20,"s":"3.00V","k":"d"},{"x":-100,"y":0.28,"s":"3.00V","k":"d"},{"x":-95,"y":0.35,"s":"3.00V","k":"d"},{"x":-85,"y":0.50,"s":"3.00V","k":"d"},{"x":-75,"y":0.60,"s":"3.00V","k":"d"},{"x":-60,"y":0.70,"s":"3.00V","k":"d"},{"x":-45,"y":0.85,"s":"3.00V","k":"d"},{"x":-35,"y":1.00,"s":"3.00V","k":"d"},{"x":-28,"y":1.12,"s":"3.00V","k":"d"},{"x":-20,"y":1.00,"s":"3.00V","k":"d"},{"x":-10,"y":0.80,"s":"3.00V","k":"d"},{"x":0,"y":0.62,"s":"3.00V","k":"d"},{"x":10,"y":0.48,"s":"3.00V","k":"d"},{"x":20,"y":0.40,"s":"3.00V","k":"d"},{"x":28,"y":0.35,"s":"3.00V","k":"d"},{"x":35,"y":0.31,"s":"3.00V","k":"d"},{"x":45,"y":0.27,"s":"3.00V","k":"d"},{"x":60,"y":0.22,"s":"3.00V","k":"d"},{"x":75,"y":0.18,"s":"3.00V","k":"d"},{"x":88,"y":0.16,"s":"3.00V","k":"d"},{"x":95,"y":0.15,"s":"3.00V","k":"d"},{"x":100,"y":0.14,"s":"3.00V","k":"d"},{"x":115,"y":0.13,"s":"3.00V","k":"d"},{"x":130,"y":0.13,"s":"3.00V","k":"d"},{"x":160,"y":0.12,"s":"3.00V","k":"d"},{"x":200,"y":0.11,"s":"3.00V","k":"d"},{"x":250,"y":0.11,"s":"3.00V","k":"d"},{"x":300,"y":0.10,"s":"3.00V","k":"d"},{"x":340,"y":0.10,"s":"3.00V","k":"d"},
{"x":-345,"y":0.05,"s":"3.00V","k":"u"},{"x":-300,"y":0.06,"s":"3.00V","k":"u"},{"x":-250,"y":0.07,"s":"3.00V","k":"u"},{"x":-200,"y":0.09,"s":"3.00V","k":"u"},{"x":-160,"y":0.12,"s":"3.00V","k":"u"},{"x":-130,"y":0.15,"s":"3.00V","k":"u"},{"x":-115,"y":0.17,"s":"3.00V","k":"u"},{"x":-100,"y":0.19,"s":"3.00V","k":"u"},{"x":-95,"y":0.20,"s":"3.00V","k":"u"},{"x":-85,"y":0.23,"s":"3.00V","k":"u"},{"x":-75,"y":0.26,"s":"3.00V","k":"u"},{"x":-60,"y":0.30,"s":"3.00V","k":"u"},{"x":-45,"y":0.36,"s":"3.00V","k":"u"},{"x":-35,"y":0.42,"s":"3.00V","k":"u"},{"x":-28,"y":0.48,"s":"3.00V","k":"u"},{"x":-20,"y":0.56,"s":"3.00V","k":"u"},{"x":-10,"y":0.70,"s":"3.00V","k":"u"},{"x":0,"y":0.85,"s":"3.00V","k":"u"},{"x":10,"y":1.00,"s":"3.00V","k":"u"},{"x":20,"y":1.07,"s":"3.00V","k":"u"},{"x":28,"y":1.05,"s":"3.00V","k":"u"},{"x":35,"y":0.95,"s":"3.00V","k":"u"},{"x":45,"y":0.82,"s":"3.00V","k":"u"},{"x":60,"y":0.70,"s":"3.00V","k":"u"},{"x":75,"y":0.58,"s":"3.00V","k":"u"},{"x":88,"y":0.42,"s":"3.00V","k":"u"},{"x":95,"y":0.30,"s":"3.00V","k":"u"},{"x":100,"y":0.20,"s":"3.00V","k":"u"},{"x":115,"y":0.14,"s":"3.00V","k":"u"},{"x":130,"y":0.12,"s":"3.00V","k":"u"},{"x":160,"y":0.11,"s":"3.00V","k":"u"},{"x":200,"y":0.10,"s":"3.00V","k":"u"},{"x":250,"y":0.10,"s":"3.00V","k":"u"},{"x":300,"y":0.09,"s":"3.00V","k":"u"},{"x":340,"y":0.09,"s":"3.00V","k":"u"},
{"x":-345,"y":0.01,"s":"-1.00V","k":"d"},{"x":-300,"y":0.04,"s":"-1.00V","k":"d"},{"x":-250,"y":0.05,"s":"-1.00V","k":"d"},{"x":-200,"y":0.06,"s":"-1.00V","k":"d"},{"x":-160,"y":0.08,"s":"-1.00V","k":"d"},{"x":-130,"y":0.10,"s":"-1.00V","k":"d"},{"x":-115,"y":0.12,"s":"-1.00V","k":"d"},{"x":-100,"y":0.15,"s":"-1.00V","k":"d"},{"x":-95,"y":0.20,"s":"-1.00V","k":"d"},{"x":-85,"y":0.30,"s":"-1.00V","k":"d"},{"x":-75,"y":0.45,"s":"-1.00V","k":"d"},{"x":-60,"y":0.62,"s":"-1.00V","k":"d"},{"x":-45,"y":0.70,"s":"-1.00V","k":"d"},{"x":-35,"y":0.77,"s":"-1.00V","k":"d"},{"x":-28,"y":0.79,"s":"-1.00V","k":"d"},{"x":-20,"y":0.72,"s":"-1.00V","k":"d"},{"x":-10,"y":0.62,"s":"-1.00V","k":"d"},{"x":0,"y":0.55,"s":"-1.00V","k":"d"},{"x":10,"y":0.38,"s":"-1.00V","k":"d"},{"x":20,"y":0.28,"s":"-1.00V","k":"d"},{"x":28,"y":0.22,"s":"-1.00V","k":"d"},{"x":35,"y":0.18,"s":"-1.00V","k":"d"},{"x":45,"y":0.14,"s":"-1.00V","k":"d"},{"x":60,"y":0.11,"s":"-1.00V","k":"d"},{"x":75,"y":0.09,"s":"-1.00V","k":"d"},{"x":88,"y":0.08,"s":"-1.00V","k":"d"},{"x":95,"y":0.08,"s":"-1.00V","k":"d"},{"x":100,"y":0.08,"s":"-1.00V","k":"d"},{"x":115,"y":0.08,"s":"-1.00V","k":"d"},{"x":130,"y":0.07,"s":"-1.00V","k":"d"},{"x":160,"y":0.07,"s":"-1.00V","k":"d"},{"x":200,"y":0.08,"s":"-1.00V","k":"d"},{"x":250,"y":0.08,"s":"-1.00V","k":"d"},{"x":300,"y":0.07,"s":"-1.00V","k":"d"},{"x":340,"y":0.08,"s":"-1.00V","k":"d"},
{"x":-345,"y":0.03,"s":"-1.00V","k":"u"},{"x":-300,"y":0.05,"s":"-1.00V","k":"u"},{"x":-250,"y":0.06,"s":"-1.00V","k":"u"},{"x":-200,"y":0.08,"s":"-1.00V","k":"u"},{"x":-160,"y":0.10,"s":"-1.00V","k":"u"},{"x":-130,"y":0.12,"s":"-1.00V","k":"u"},{"x":-115,"y":0.14,"s":"-1.00V","k":"u"},{"x":-100,"y":0.17,"s":"-1.00V","k":"u"},{"x":-95,"y":0.18,"s":"-1.00V","k":"u"},{"x":-85,"y":0.21,"s":"-1.00V","k":"u"},{"x":-75,"y":0.24,"s":"-1.00V","k":"u"},{"x":-60,"y":0.28,"s":"-1.00V","k":"u"},{"x":-45,"y":0.33,"s":"-1.00V","k":"u"},{"x":-35,"y":0.37,"s":"-1.00V","k":"u"},{"x":-28,"y":0.41,"s":"-1.00V","k":"u"},{"x":-20,"y":0.45,"s":"-1.00V","k":"u"},{"x":-10,"y":0.50,"s":"-1.00V","k":"u"},{"x":0,"y":0.56,"s":"-1.00V","k":"u"},{"x":10,"y":0.62,"s":"-1.00V","k":"u"},{"x":20,"y":0.70,"s":"-1.00V","k":"u"},{"x":28,"y":0.75,"s":"-1.00V","k":"u"},{"x":35,"y":0.77,"s":"-1.00V","k":"u"},{"x":45,"y":0.70,"s":"-1.00V","k":"u"},{"x":60,"y":0.65,"s":"-1.00V","k":"u"},{"x":75,"y":0.62,"s":"-1.00V","k":"u"},{"x":88,"y":0.55,"s":"-1.00V","k":"u"},{"x":95,"y":0.40,"s":"-1.00V","k":"u"},{"x":100,"y":0.25,"s":"-1.00V","k":"u"},{"x":115,"y":0.16,"s":"-1.00V","k":"u"},{"x":130,"y":0.13,"s":"-1.00V","k":"u"},{"x":160,"y":0.12,"s":"-1.00V","k":"u"},{"x":200,"y":0.11,"s":"-1.00V","k":"u"},{"x":250,"y":0.10,"s":"-1.00V","k":"u"},{"x":300,"y":0.10,"s":"-1.00V","k":"u"},{"x":340,"y":0.09,"s":"-1.00V","k":"u"},
{"x":-345,"y":0.14,"s":"-3.00V","k":"d"},{"x":-300,"y":0.15,"s":"-3.00V","k":"d"},{"x":-250,"y":0.16,"s":"-3.00V","k":"d"},{"x":-200,"y":0.17,"s":"-3.00V","k":"d"},{"x":-160,"y":0.18,"s":"-3.00V","k":"d"},{"x":-130,"y":0.20,"s":"-3.00V","k":"d"},{"x":-115,"y":0.23,"s":"-3.00V","k":"d"},{"x":-100,"y":0.30,"s":"-3.00V","k":"d"},{"x":-95,"y":0.36,"s":"-3.00V","k":"d"},{"x":-85,"y":0.50,"s":"-3.00V","k":"d"},{"x":-75,"y":0.62,"s":"-3.00V","k":"d"},{"x":-60,"y":0.68,"s":"-3.00V","k":"d"},{"x":-45,"y":0.74,"s":"-3.00V","k":"d"},{"x":-35,"y":0.80,"s":"-3.00V","k":"d"},{"x":-28,"y":0.83,"s":"-3.00V","k":"d"},{"x":-20,"y":0.78,"s":"-3.00V","k":"d"},{"x":-10,"y":0.68,"s":"-3.00V","k":"d"},{"x":0,"y":0.58,"s":"-3.00V","k":"d"},{"x":10,"y":0.50,"s":"-3.00V","k":"d"},{"x":20,"y":0.44,"s":"-3.00V","k":"d"},{"x":28,"y":0.40,"s":"-3.00V","k":"d"},{"x":35,"y":0.37,"s":"-3.00V","k":"d"},{"x":45,"y":0.33,"s":"-3.00V","k":"d"},{"x":60,"y":0.29,"s":"-3.00V","k":"d"},{"x":75,"y":0.26,"s":"-3.00V","k":"d"},{"x":88,"y":0.24,"s":"-3.00V","k":"d"},{"x":95,"y":0.23,"s":"-3.00V","k":"d"},{"x":100,"y":0.22,"s":"-3.00V","k":"d"},{"x":115,"y":0.20,"s":"-3.00V","k":"d"},{"x":130,"y":0.19,"s":"-3.00V","k":"d"},{"x":160,"y":0.18,"s":"-3.00V","k":"d"},{"x":200,"y":0.20,"s":"-3.00V","k":"d"},{"x":250,"y":0.24,"s":"-3.00V","k":"d"},{"x":300,"y":0.22,"s":"-3.00V","k":"d"},{"x":340,"y":0.17,"s":"-3.00V","k":"d"},
{"x":-345,"y":0.07,"s":"-3.00V","k":"u"},{"x":-300,"y":0.08,"s":"-3.00V","k":"u"},{"x":-250,"y":0.09,"s":"-3.00V","k":"u"},{"x":-200,"y":0.11,"s":"-3.00V","k":"u"},{"x":-160,"y":0.13,"s":"-3.00V","k":"u"},{"x":-130,"y":0.16,"s":"-3.00V","k":"u"},{"x":-115,"y":0.18,"s":"-3.00V","k":"u"},{"x":-100,"y":0.21,"s":"-3.00V","k":"u"},{"x":-95,"y":0.22,"s":"-3.00V","k":"u"},{"x":-85,"y":0.25,"s":"-3.00V","k":"u"},{"x":-75,"y":0.28,"s":"-3.00V","k":"u"},{"x":-60,"y":0.32,"s":"-3.00V","k":"u"},{"x":-45,"y":0.37,"s":"-3.00V","k":"u"},{"x":-35,"y":0.41,"s":"-3.00V","k":"u"},{"x":-28,"y":0.45,"s":"-3.00V","k":"u"},{"x":-20,"y":0.50,"s":"-3.00V","k":"u"},{"x":-10,"y":0.56,"s":"-3.00V","k":"u"},{"x":0,"y":0.62,"s":"-3.00V","k":"u"},{"x":10,"y":0.68,"s":"-3.00V","k":"u"},{"x":20,"y":0.75,"s":"-3.00V","k":"u"},{"x":28,"y":0.85,"s":"-3.00V","k":"u"},{"x":35,"y":0.90,"s":"-3.00V","k":"u"},{"x":45,"y":0.80,"s":"-3.00V","k":"u"},{"x":60,"y":0.68,"s":"-3.00V","k":"u"},{"x":75,"y":0.64,"s":"-3.00V","k":"u"},{"x":88,"y":0.60,"s":"-3.00V","k":"u"},{"x":95,"y":0.45,"s":"-3.00V","k":"u"},{"x":100,"y":0.30,"s":"-3.00V","k":"u"},{"x":115,"y":0.22,"s":"-3.00V","k":"u"},{"x":130,"y":0.20,"s":"-3.00V","k":"u"},{"x":160,"y":0.18,"s":"-3.00V","k":"u"},{"x":200,"y":0.20,"s":"-3.00V","k":"u"},{"x":250,"y":0.23,"s":"-3.00V","k":"u"},{"x":300,"y":0.20,"s":"-3.00V","k":"u"},{"x":340,"y":0.16,"s":"-3.00V","k":"u"}
],
"c": [
{"x":-365,"y":8.8,"s":"V= 3.00V HL","k":"L"},{"x":-340,"y":8.6,"s":"V= 3.00V HL","k":"L"},{"x":-320,"y":8.7,"s":"V= 3.00V HL","k":"L"},{"x":-300,"y":9.2,"s":"V= 3.00V HL","k":"L"},{"x":-270,"y":9.6,"s":"V= 3.00V HL","k":"L"},{"x":-240,"y":10.0,"s":"V= 3.00V HL","k":"L"},{"x":-200,"y":10.9,"s":"V= 3.00V HL","k":"L"},{"x":-170,"y":11.8,"s":"V= 3.00V HL","k":"L"},{"x":-150,"y":12.5,"s":"V= 3.00V HL","k":"L"},{"x":-120,"y":14.0,"s":"V= 3.00V HL","k":"L"},{"x":-100,"y":15.3,"s":"V= 3.00V HL","k":"L"},{"x":-85,"y":16.8,"s":"V= 3.00V HL","k":"L"},{"x":-75,"y":18.0,"s":"V= 3.00V HL","k":"L"},{"x":-65,"y":20.0,"s":"V= 3.00V HL","k":"L"},{"x":-58,"y":23,"s":"V= 3.00V HL","k":"L"},{"x":-50,"y":30,"s":"V= 3.00V HL","k":"L"},{"x":-42,"y":38,"s":"V= 3.00V HL","k":"L"},{"x":-35,"y":42,"s":"V= 3.00V HL","k":"L"},{"x":-30,"y":43.5,"s":"V= 3.00V HL","k":"L"},{"x":-22,"y":42,"s":"V= 3.00V HL","k":"L"},{"x":-10,"y":39,"s":"V= 3.00V HL","k":"L"},{"x":0,"y":35.5,"s":"V= 3.00V HL","k":"L"},{"x":10,"y":32,"s":"V= 3.00V HL","k":"L"},{"x":25,"y":28,"s":"V= 3.00V HL","k":"L"},{"x":40,"y":25.5,"s":"V= 3.00V HL","k":"L"},{"x":60,"y":22.5,"s":"V= 3.00V HL","k":"L"},{"x":80,"y":20,"s":"V= 3.00V HL","k":"L"},{"x":100,"y":18,"s":"V= 3.00V HL","k":"L"},{"x":130,"y":15.5,"s":"V= 3.00V HL","k":"L"},{"x":160,"y":13.5,"s":"V= 3.00V HL","k":"L"},{"x":200,"y":10.5,"s":"V= 3.00V HL","k":"L"},{"x":240,"y":8,"s":"V= 3.00V HL","k":"L"},{"x":270,"y":6.5,"s":"V= 3.00V HL","k":"L"},{"x":290,"y":5,"s":"V= 3.00V HL","k":"L"},{"x":300,"y":4.5,"s":"V= 3.00V HL","k":"L"},{"x":305,"y":3,"s":"V= 3.00V HL","k":"L"},{"x":310,"y":4,"s":"V= 3.00V HL","k":"L"},{"x":315,"y":1,"s":"V= 3.00V HL","k":"L"},{"x":320,"y":2,"s":"V= 3.00V HL","k":"L"},{"x":325,"y":0,"s":"V= 3.00V HL","k":"L"},
{"x":-385,"y":0,"s":"V= 3.00V HL","k":"R"},{"x":-378,"y":2,"s":"V= 3.00V HL","k":"R"},{"x":-372,"y":0.5,"s":"V= 3.00V HL","k":"R"},{"x":-365,"y":2.3,"s":"V= 3.00V HL","k":"R"},{"x":-358,"y":0,"s":"V= 3.00V HL","k":"R"},{"x":-350,"y":1.8,"s":"V= 3.00V HL","k":"R"},{"x":-343,"y":0,"s":"V= 3.00V HL","k":"R"},{"x":-335,"y":1.5,"s":"V= 3.00V HL","k":"R"},{"x":-325,"y":3.5,"s":"V= 3.00V HL","k":"R"},{"x":-310,"y":4.5,"s":"V= 3.00V HL","k":"R"},{"x":-300,"y":5.0,"s":"V= 3.00V HL","k":"R"},{"x":-285,"y":5.2,"s":"V= 3.00V HL","k":"R"},{"x":-270,"y":5.0,"s":"V= 3.00V HL","k":"R"},{"x":-255,"y":5.8,"s":"V= 3.00V HL","k":"R"},{"x":-240,"y":6.5,"s":"V= 3.00V HL","k":"R"},{"x":-220,"y":7.0,"s":"V= 3.00V HL","k":"R"},{"x":-200,"y":7.5,"s":"V= 3.00V HL","k":"R"},{"x":-170,"y":8.5,"s":"V= 3.00V HL","k":"R"},{"x":-150,"y":9.5,"s":"V= 3.00V HL","k":"R"},{"x":-120,"y":11.5,"s":"V= 3.00V HL","k":"R"},{"x":-100,"y":13.0,"s":"V= 3.00V HL","k":"R"},{"x":-80,"y":15.0,"s":"V= 3.00V HL","k":"R"},{"x":-60,"y":18.0,"s":"V= 3.00V HL","k":"R"},{"x":-40,"y":22.5,"s":"V= 3.00V HL","k":"R"},{"x":-20,"y":28.0,"s":"V= 3.00V HL","k":"R"},{"x":0,"y":34.0,"s":"V= 3.00V HL","k":"R"},{"x":10,"y":37.5,"s":"V= 3.00V HL","k":"R"},{"x":20,"y":40.5,"s":"V= 3.00V HL","k":"R"},{"x":27,"y":41.5,"s":"V= 3.00V HL","k":"R"},{"x":35,"y":40.0,"s":"V= 3.00V HL","k":"R"},{"x":42,"y":36,"s":"V= 3.00V HL","k":"R"},{"x":50,"y":28,"s":"V= 3.00V HL","k":"R"},{"x":58,"y":23.5,"s":"V= 3.00V HL","k":"R"},{"x":70,"y":20.5,"s":"V= 3.00V HL","k":"R"},{"x":90,"y":17.5,"s":"V= 3.00V HL","k":"R"},{"x":110,"y":15.0,"s":"V= 3.00V HL","k":"R"},{"x":140,"y":12.8,"s":"V= 3.00V HL","k":"R"},{"x":170,"y":11.2,"s":"V= 3.00V HL","k":"R"},{"x":200,"y":9.3,"s":"V= 3.00V HL","k":"R"},{"x":230,"y":7.5,"s":"V= 3.00V HL","k":"R"},{"x":260,"y":6.0,"s":"V= 3.00V HL","k":"R"},{"x":290,"y":4.0,"s":"V= 3.00V HL","k":"R"},{"x":300,"y":3.5,"s":"V= 3.00V HL","k":"R"},{"x":305,"y":1,"s":"V= 3.00V HL","k":"R"},{"x":310,"y":2.5,"s":"V= 3.00V HL","k":"R"},{"x":315,"y":0,"s":"V= 3.00V HL","k":"R"},
{"x":-365,"y":10.9,"s":"V=-3.00V HL","k":"L"},{"x":-340,"y":11.1,"s":"V=-3.00V HL","k":"L"},{"x":-310,"y":11.3,"s":"V=-3.00V HL","k":"L"},{"x":-280,"y":11.8,"s":"V=-3.00V HL","k":"L"},{"x":-250,"y":12.3,"s":"V=-3.00V HL","k":"L"},{"x":-220,"y":12.9,"s":"V=-3.00V HL","k":"L"},{"x":-200,"y":13.5,"s":"V=-3.00V HL","k":"L"},{"x":-170,"y":14.5,"s":"V=-3.00V HL","k":"L"},{"x":-150,"y":15.5,"s":"V=-3.00V HL","k":"L"},{"x":-120,"y":17.5,"s":"V=-3.00V HL","k":"L"},{"x":-100,"y":19.5,"s":"V=-3.00V HL","k":"L"},{"x":-85,"y":21.5,"s":"V=-3.00V HL","k":"L"},{"x":-72,"y":24,"s":"V=-3.00V HL","k":"L"},{"x":-60,"y":28,"s":"V=-3.00V HL","k":"L"},{"x":-50,"y":34,"s":"V=-3.00V HL","k":"L"},{"x":-40,"y":40.5,"s":"V=-3.00V HL","k":"L"},{"x":-33,"y":43.5,"s":"V=-3.00V HL","k":"L"},{"x":-28,"y":44.5,"s":"V=-3.00V HL","k":"L"},{"x":-20,"y":43,"s":"V=-3.00V HL","k":"L"},{"x":-10,"y":40,"s":"V=-3.00V HL","k":"L"},{"x":0,"y":37,"s":"V=-3.00V HL","k":"L"},{"x":15,"y":33,"s":"V=-3.00V HL","k":"L"},{"x":30,"y":30,"s":"V=-3.00V HL","k":"L"},{"x":50,"y":27,"s":"V=-3.00V HL","k":"L"},{"x":75,"y":23.5,"s":"V=-3.00V HL","k":"L"},{"x":100,"y":20.5,"s":"V=-3.00V HL","k":"L"},{"x":130,"y":17.5,"s":"V=-3.00V HL","k":"L"},{"x":160,"y":15,"s":"V=-3.00V HL","k":"L"},{"x":200,"y":12,"s":"V=-3.00V HL","k":"L"},{"x":240,"y":9.5,"s":"V=-3.00V HL","k":"L"},{"x":270,"y":7,"s":"V=-3.00V HL","k":"L"},{"x":300,"y":5,"s":"V=-3.00V HL","k":"L"},{"x":315,"y":3.5,"s":"V=-3.00V HL","k":"L"},{"x":325,"y":1,"s":"V=-3.00V HL","k":"L"},{"x":332,"y":2.5,"s":"V=-3.00V HL","k":"L"},{"x":338,"y":0.5,"s":"V=-3.00V HL","k":"L"},{"x":345,"y":2.5,"s":"V=-3.00V HL","k":"L"},
{"x":-387,"y":0,"s":"V=-3.00V HL","k":"R"},{"x":-300,"y":0,"s":"V=-3.00V HL","k":"R"},{"x":-252,"y":0,"s":"V=-3.00V HL","k":"R"},{"x":-248,"y":2.5,"s":"V=-3.00V HL","k":"R"},{"x":-242,"y":3.5,"s":"V=-3.00V HL","k":"R"},{"x":-235,"y":3,"s":"V=-3.00V HL","k":"R"},{"x":-228,"y":5,"s":"V=-3.00V HL","k":"R"},{"x":-220,"y":5.5,"s":"V=-3.00V HL","k":"R"},{"x":-200,"y":7.5,"s":"V=-3.00V HL","k":"R"},{"x":-180,"y":8.5,"s":"V=-3.00V HL","k":"R"},{"x":-150,"y":10,"s":"V=-3.00V HL","k":"R"},{"x":-120,"y":12,"s":"V=-3.00V HL","k":"R"},{"x":-100,"y":14,"s":"V=-3.00V HL","k":"R"},{"x":-80,"y":16.5,"s":"V=-3.00V HL","k":"R"},{"x":-60,"y":19.5,"s":"V=-3.00V HL","k":"R"},{"x":-40,"y":23.5,"s":"V=-3.00V HL","k":"R"},{"x":-20,"y":29,"s":"V=-3.00V HL","k":"R"},{"x":0,"y":35,"s":"V=-3.00V HL","k":"R"},{"x":10,"y":39,"s":"V=-3.00V HL","k":"R"},{"x":18,"y":42,"s":"V=-3.00V HL","k":"R"},{"x":24,"y":42.7,"s":"V=-3.00V HL","k":"R"},{"x":32,"y":42,"s":"V=-3.00V HL","k":"R"},{"x":40,"y":38,"s":"V=-3.00V HL","k":"R"},{"x":48,"y":31,"s":"V=-3.00V HL","k":"R"},{"x":56,"y":25,"s":"V=-3.00V HL","k":"R"},{"x":70,"y":21,"s":"V=-3.00V HL","k":"R"},{"x":90,"y":18.5,"s":"V=-3.00V HL","k":"R"},{"x":120,"y":15.5,"s":"V=-3.00V HL","k":"R"},{"x":150,"y":13,"s":"V=-3.00V HL","k":"R"},{"x":180,"y":11,"s":"V=-3.00V HL","k":"R"},{"x":210,"y":9,"s":"V=-3.00V HL","k":"R"},{"x":240,"y":7,"s":"V=-3.00V HL","k":"R"},{"x":270,"y":5.5,"s":"V=-3.00V HL","k":"R"},{"x":295,"y":4,"s":"V=-3.00V HL","k":"R"},{"x":310,"y":3,"s":"V=-3.00V HL","k":"R"},{"x":320,"y":1,"s":"V=-3.00V HL","k":"R"},{"x":330,"y":3,"s":"V=-3.00V HL","k":"R"},{"x":335,"y":0.5,"s":"V=-3.00V HL","k":"R"},{"x":340,"y":0,"s":"V=-3.00V HL","k":"R"},
{"x":-370,"y":90,"s":"V=3.00V HT","k":"L"},{"x":-362,"y":88.5,"s":"V=3.00V HT","k":"L"},{"x":-355,"y":90,"s":"V=3.00V HT","k":"L"},{"x":-345,"y":88,"s":"V=3.00V HT","k":"L"},{"x":-335,"y":90,"s":"V=3.00V HT","k":"L"},{"x":-325,"y":87.5,"s":"V=3.00V HT","k":"L"},{"x":-315,"y":89.5,"s":"V=3.00V HT","k":"L"},{"x":-305,"y":88,"s":"V=3.00V HT","k":"L"},{"x":-295,"y":90,"s":"V=3.00V HT","k":"L"},{"x":-285,"y":87.5,"s":"V=3.00V HT","k":"L"},{"x":-275,"y":89,"s":"V=3.00V HT","k":"L"},{"x":-260,"y":88,"s":"V=3.00V HT","k":"L"},{"x":-245,"y":88.5,"s":"V=3.00V HT","k":"L"},{"x":-230,"y":87.5,"s":"V=3.00V HT","k":"L"},{"x":-215,"y":87,"s":"V=3.00V HT","k":"L"},{"x":-200,"y":86.5,"s":"V=3.00V HT","k":"L"},{"x":-185,"y":87,"s":"V=3.00V HT","k":"L"},{"x":-170,"y":86,"s":"V=3.00V HT","k":"L"},{"x":-155,"y":85,"s":"V=3.00V HT","k":"L"},{"x":-140,"y":84,"s":"V=3.00V HT","k":"L"},{"x":-125,"y":83,"s":"V=3.00V HT","k":"L"},{"x":-110,"y":81.5,"s":"V=3.00V HT","k":"L"},{"x":-95,"y":79.5,"s":"V=3.00V HT","k":"L"},{"x":-80,"y":77,"s":"V=3.00V HT","k":"L"},{"x":-65,"y":74,"s":"V=3.00V HT","k":"L"},{"x":-50,"y":71,"s":"V=3.00V HT","k":"L"},{"x":-40,"y":69,"s":"V=3.00V HT","k":"L"},{"x":-33,"y":67.5,"s":"V=3.00V HT","k":"L"},{"x":-28,"y":64.3,"s":"V=3.00V HT","k":"L"},{"x":-20,"y":66,"s":"V=3.00V HT","k":"L"},{"x":-10,"y":69,"s":"V=3.00V HT","k":"L"},{"x":0,"y":71.5,"s":"V=3.00V HT","k":"L"},{"x":15,"y":74.5,"s":"V=3.00V HT","k":"L"},{"x":30,"y":77,"s":"V=3.00V HT","k":"L"},{"x":50,"y":79,"s":"V=3.00V HT","k":"L"},{"x":70,"y":80.5,"s":"V=3.00V HT","k":"L"},{"x":90,"y":82.5,"s":"V=3.00V HT","k":"L"},{"x":110,"y":84,"s":"V=3.00V HT","k":"L"},{"x":130,"y":85,"s":"V=3.00V HT","k":"L"},{"x":150,"y":86.5,"s":"V=3.00V HT","k":"L"},{"x":170,"y":85.5,"s":"V=3.00V HT","k":"L"},{"x":190,"y":87,"s":"V=3.00V HT","k":"L"},{"x":210,"y":86,"s":"V=3.00V HT","k":"L"},{"x":230,"y":88,"s":"V=3.00V HT","k":"L"},{"x":250,"y":86.5,"s":"V=3.00V HT","k":"L"},{"x":270,"y":88.5,"s":"V=3.00V HT","k":"L"},{"x":290,"y":87,"s":"V=3.00V HT","k":"L"},{"x":305,"y":89.5,"s":"V=3.00V HT","k":"L"},{"x":315,"y":88,"s":"V=3.00V HT","k":"L"},{"x":325,"y":90,"s":"V=3.00V HT","k":"L"},{"x":335,"y":88.5,"s":"V=3.00V HT","k":"L"},{"x":342,"y":90,"s":"V=3.00V HT","k":"L"},
{"x":-370,"y":90,"s":"V=3.00V HT","k":"R"},{"x":-250,"y":90,"s":"V=3.00V HT","k":"R"},{"x":-240,"y":89,"s":"V=3.00V HT","k":"R"},{"x":-225,"y":90,"s":"V=3.00V HT","k":"R"},{"x":-210,"y":88.5,"s":"V=3.00V HT","k":"R"},{"x":-195,"y":89.5,"s":"V=3.00V HT","k":"R"},{"x":-180,"y":88,"s":"V=3.00V HT","k":"R"},{"x":-165,"y":88.5,"s":"V=3.00V HT","k":"R"},{"x":-150,"y":87,"s":"V=3.00V HT","k":"R"},{"x":-130,"y":86,"s":"V=3.00V HT","k":"R"},{"x":-110,"y":85,"s":"V=3.00V HT","k":"R"},{"x":-90,"y":84,"s":"V=3.00V HT","k":"R"},{"x":-70,"y":82.5,"s":"V=3.00V HT","k":"R"},{"x":-50,"y":80.5,"s":"V=3.00V HT","k":"R"},{"x":-35,"y":78.5,"s":"V=3.00V HT","k":"R"},{"x":-20,"y":76,"s":"V=3.00V HT","k":"R"},{"x":-10,"y":73.5,"s":"V=3.00V HT","k":"R"},{"x":0,"y":71,"s":"V=3.00V HT","k":"R"},{"x":10,"y":67.5,"s":"V=3.00V HT","k":"R"},{"x":19,"y":64.8,"s":"V=3.00V HT","k":"R"},{"x":28,"y":66,"s":"V=3.00V HT","k":"R"},{"x":38,"y":67.5,"s":"V=3.00V HT","k":"R"},{"x":48,"y":69,"s":"V=3.00V HT","k":"R"},{"x":58,"y":73,"s":"V=3.00V HT","k":"R"},{"x":68,"y":77,"s":"V=3.00V HT","k":"R"},{"x":80,"y":80.5,"s":"V=3.00V HT","k":"R"},{"x":95,"y":82.5,"s":"V=3.00V HT","k":"R"},{"x":115,"y":84,"s":"V=3.00V HT","k":"R"},{"x":135,"y":85,"s":"V=3.00V HT","k":"R"},{"x":160,"y":85.5,"s":"V=3.00V HT","k":"R"},{"x":185,"y":86.5,"s":"V=3.00V HT","k":"R"},{"x":210,"y":85.5,"s":"V=3.00V HT","k":"R"},{"x":235,"y":87,"s":"V=3.00V HT","k":"R"},{"x":260,"y":86,"s":"V=3.00V HT","k":"R"},{"x":280,"y":88,"s":"V=3.00V HT","k":"R"},{"x":300,"y":87.5,"s":"V=3.00V HT","k":"R"},{"x":315,"y":89.5,"s":"V=3.00V HT","k":"R"},{"x":325,"y":88,"s":"V=3.00V HT","k":"R"},{"x":335,"y":90,"s":"V=3.00V HT","k":"R"},{"x":342,"y":89,"s":"V=3.00V HT","k":"R"},
{"x":-370,"y":84,"s":"V=-3.00V HT","k":"L"},{"x":-350,"y":84.3,"s":"V=-3.00V HT","k":"L"},{"x":-330,"y":84.6,"s":"V=-3.00V HT","k":"L"},{"x":-310,"y":84,"s":"V=-3.00V HT","k":"L"},{"x":-290,"y":84.5,"s":"V=-3.00V HT","k":"L"},{"x":-270,"y":83.8,"s":"V=-3.00V HT","k":"L"},{"x":-250,"y":83.5,"s":"V=-3.00V HT","k":"L"},{"x":-230,"y":83.2,"s":"V=-3.00V HT","k":"L"},{"x":-210,"y":83.4,"s":"V=-3.00V HT","k":"L"},{"x":-190,"y":83,"s":"V=-3.00V HT","k":"L"},{"x":-170,"y":83.2,"s":"V=-3.00V HT","k":"L"},{"x":-150,"y":82.8,"s":"V=-3.00V HT","k":"L"},{"x":-130,"y":82.5,"s":"V=-3.00V HT","k":"L"},{"x":-110,"y":81.5,"s":"V=-3.00V HT","k":"L"},{"x":-95,"y":80.5,"s":"V=-3.00V HT","k":"L"},{"x":-80,"y":78.5,"s":"V=-3.00V HT","k":"L"},{"x":-65,"y":75.5,"s":"V=-3.00V HT","k":"L"},{"x":-52,"y":72.5,"s":"V=-3.00V HT","k":"L"},{"x":-44,"y":70,"s":"V=-3.00V HT","k":"L"},{"x":-37,"y":68.3,"s":"V=-3.00V HT","k":"L"},{"x":-28,"y":69,"s":"V=-3.00V HT","k":"L"},{"x":-15,"y":71,"s":"V=-3.00V HT","k":"L"},{"x":0,"y":73,"s":"V=-3.00V HT","k":"L"},{"x":15,"y":75.5,"s":"V=-3.00V HT","k":"L"},{"x":30,"y":77.5,"s":"V=-3.00V HT","k":"L"},{"x":50,"y":79.5,"s":"V=-3.00V HT","k":"L"},{"x":70,"y":80.8,"s":"V=-3.00V HT","k":"L"},{"x":95,"y":82,"s":"V=-3.00V HT","k":"L"},{"x":120,"y":83,"s":"V=-3.00V HT","k":"L"},{"x":150,"y":82.5,"s":"V=-3.00V HT","k":"L"},{"x":175,"y":82,"s":"V=-3.00V HT","k":"L"},{"x":200,"y":81.5,"s":"V=-3.00V HT","k":"L"},{"x":225,"y":82,"s":"V=-3.00V HT","k":"L"},{"x":250,"y":81,"s":"V=-3.00V HT","k":"L"},{"x":270,"y":80.5,"s":"V=-3.00V HT","k":"L"},{"x":290,"y":80.8,"s":"V=-3.00V HT","k":"L"},{"x":310,"y":82,"s":"V=-3.00V HT","k":"L"},{"x":325,"y":82.5,"s":"V=-3.00V HT","k":"L"},{"x":340,"y":83,"s":"V=-3.00V HT","k":"L"},
{"x":-370,"y":90,"s":"V=-3.00V HT","k":"R"},{"x":-220,"y":90,"s":"V=-3.00V HT","k":"R"},{"x":-205,"y":89,"s":"V=-3.00V HT","k":"R"},{"x":-190,"y":89.5,"s":"V=-3.00V HT","k":"R"},{"x":-175,"y":88.5,"s":"V=-3.00V HT","k":"R"},{"x":-160,"y":88,"s":"V=-3.00V HT","k":"R"},{"x":-140,"y":86.5,"s":"V=-3.00V HT","k":"R"},{"x":-120,"y":85,"s":"V=-3.00V HT","k":"R"},{"x":-100,"y":84,"s":"V=-3.00V HT","k":"R"},{"x":-80,"y":82.5,"s":"V=-3.00V HT","k":"R"},{"x":-60,"y":81,"s":"V=-3.00V HT","k":"R"},{"x":-40,"y":79.5,"s":"V=-3.00V HT","k":"R"},{"x":-20,"y":77,"s":"V=-3.00V HT","k":"R"},{"x":0,"y":74.5,"s":"V=-3.00V HT","k":"R"},{"x":15,"y":72,"s":"V=-3.00V HT","k":"R"},{"x":28,"y":69.5,"s":"V=-3.00V HT","k":"R"},{"x":37,"y":67.8,"s":"V=-3.00V HT","k":"R"},{"x":45,"y":68,"s":"V=-3.00V HT","k":"R"},{"x":55,"y":70.5,"s":"V=-3.00V HT","k":"R"},{"x":65,"y":74,"s":"V=-3.00V HT","k":"R"},{"x":80,"y":78.5,"s":"V=-3.00V HT","k":"R"},{"x":100,"y":81.5,"s":"V=-3.00V HT","k":"R"},{"x":125,"y":83,"s":"V=-3.00V HT","k":"R"},{"x":150,"y":83.5,"s":"V=-3.00V HT","k":"R"},{"x":175,"y":82.5,"s":"V=-3.00V HT","k":"R"},{"x":200,"y":83,"s":"V=-3.00V HT","k":"R"},{"x":225,"y":82.5,"s":"V=-3.00V HT","k":"R"},{"x":250,"y":82,"s":"V=-3.00V HT","k":"R"},{"x":275,"y":82.8,"s":"V=-3.00V HT","k":"R"},{"x":300,"y":83,"s":"V=-3.00V HT","k":"R"},{"x":320,"y":82.5,"s":"V=-3.00V HT","k":"R"},{"x":340,"y":83.5,"s":"V=-3.00V HT","k":"R"}
]
},
"align": "none",
"spacing": 37,
"resolve": {"scale": {"color": "independent"}, "legend": {"color": "independent"}},
"hconcat": [
{
 "align": "none",
 "spacing": 21,
 "resolve": {"scale": {"color": "independent"}, "legend": {"color": "independent"}},
 "hconcat": [
  {
   "title": {"text": "(a)", "orient": "bottom", "font": "DejaVu Serif", "fontSize": 22, "fontWeight": "bold", "color": "#000000", "offset": 30, "anchor": "middle"},
   "spacing": 0,
   "vconcat": [
    {"width": 294, "height": 3, "data": {"values": []}, "mark": {"type": "point", "opacity": 0}, "view": {"stroke": null}},
    {
    "width": 294, "height": 292,
    "title": {"text": "Ni 20nm, H21 AMR-GAP-D1, Longitudinal", "fontSize": 12, "offset": -5, "anchor": "middle", "frame": "group"},
    "data": {"name": "a"},
    "mark": {"type": "line", "strokeWidth": 1.5, "clip": true},
    "encoding": {
     "x": {"field": "x", "type": "quantitative", "scale": {"domain": [-350, 350], "nice": false}, "axis": {"title": "Magnetic field, Oe", "values": [-300, -200, -100, 0, 100, 200, 300], "labelExpr": "toString(datum.value)", "labelFontSize": 11.5, "titleFontSize": 12, "titlePadding": 3}},
     "y": {"field": "y", "type": "quantitative", "scale": {"domain": [-3, 0], "nice": false}, "axis": {"title": "ΔResistance, Ω", "values": [0, -0.5, -1, -1.5, -2, -2.5, -3], "labelExpr": "toString(datum.value)", "labelFontSize": 11.5, "titleFontSize": 12, "titlePadding": 3}},
     "color": {"field": "s", "type": "nominal", "sort": null, "scale": {"domain": ["0.00V", "1.00V", "2.00V", "3.00V", "-1.00V", "-3.00V"], "range": ["#0072BD", "#D95319", "#EDB120", "#7E2F8E", "#77AC30", "#4DBEEE"]}, "legend": {"title": null, "orient": "none", "legendX": 229, "legendY": 212, "labelFontSize": 10.5, "symbolStrokeWidth": 2}},
     "detail": {"field": "k", "type": "nominal"}
    }
   }]
  },
  {
   "title": {"text": "(b)", "orient": "bottom", "font": "DejaVu Serif", "fontSize": 22, "fontWeight": "bold", "color": "#000000", "offset": 30, "anchor": "middle"},
   "spacing": 0,
   "vconcat": [
    {"width": 294, "height": 3, "data": {"values": []}, "mark": {"type": "point", "opacity": 0}, "view": {"stroke": null}},
    {
    "width": 294, "height": 292,
    "title": {"text": "Ni 20nm, H21 AMR-GAP-D1, Transversal", "fontSize": 12, "offset": -5, "anchor": "middle", "frame": "group"},
    "data": {"name": "b"},
    "mark": {"type": "line", "strokeWidth": 1.5, "clip": true},
    "encoding": {
     "x": {"field": "x", "type": "quantitative", "scale": {"domain": [-348, 346], "nice": false}, "axis": {"title": "Magnetic field, Oe", "values": [-300, -200, -100, 0, 100, 200, 300], "labelExpr": "toString(datum.value)", "labelFontSize": 11.5, "titleFontSize": 12, "titlePadding": 3}},
     "y": {"field": "y", "type": "quantitative", "scale": {"domain": [0, 1.4], "nice": false}, "axis": {"title": "ΔResistance, Ω", "values": [0, 0.2, 0.4, 0.6, 0.8, 1, 1.2, 1.4], "labelExpr": "toString(datum.value)", "labelFontSize": 11.5, "titleFontSize": 12, "titlePadding": 3}},
     "color": {"field": "s", "type": "nominal", "sort": null, "scale": {"domain": ["0.00V", "1.00V", "2.00V", "3.00V", "-1.00V", "-3.00V"], "range": ["#0072BD", "#D95319", "#EDB120", "#7E2F8E", "#77AC30", "#4DBEEE"]}, "legend": {"title": null, "orient": "none", "legendX": 229, "legendY": 24, "labelFontSize": 11, "symbolStrokeWidth": 2.5}},
     "detail": {"field": "k", "type": "nominal"}
    }
   }]
  }
 ]
},
{
 "title": {"text": "(c)", "orient": "bottom", "font": "DejaVu Serif", "fontSize": 22, "fontWeight": "bold", "color": "#000000", "offset": 31, "anchor": "middle"},
 "vconcat": [{
  "width": 309, "height": 308,
  "title": {"text": "AMR-GAP-D1, AMR effect", "fontSize": 13, "offset": -7, "anchor": "middle", "frame": "group"},
  "data": {"name": "c"},
  "mark": {"type": "line", "strokeWidth": 1.2, "clip": true},
  "encoding": {
   "x": {"field": "x", "type": "quantitative", "scale": {"domain": [-400, 400], "nice": false}, "axis": {"title": "Magnetic field, Oe", "values": [-400, -300, -200, -100, 0, 100, 200, 300, 400], "labelExpr": "toString(datum.value)", "labelFontSize": 12, "titleFontSize": 13, "titlePadding": 3}},
   "y": {"field": "y", "type": "quantitative", "scale": {"domain": [0, 90], "nice": false}, "axis": {"title": "θM", "values": [0, 10, 20, 30, 40, 50, 60, 70, 80, 90], "labelExpr": "toString(datum.value) + '°'", "labelFontSize": 12, "titleFontSize": 13, "titlePadding": 5}},
   "color": {"field": "s", "type": "nominal", "sort": null, "scale": {"domain": ["V= 3.00V HL", "V=-3.00V HL", "V=3.00V HT", "V=-3.00V HT"], "range": ["#10108c", "#5a9af2", "#a3172e", "#e3213d"]}, "legend": {"title": null, "orient": "none", "legendX": 232, "legendY": 35, "labelFontSize": 11.5, "symbolStrokeWidth": 2, "rowPadding": 0, "strokeColor": "#666666"}},
   "detail": {"field": "k", "type": "nominal"}
  }
 }]
}
]
}
